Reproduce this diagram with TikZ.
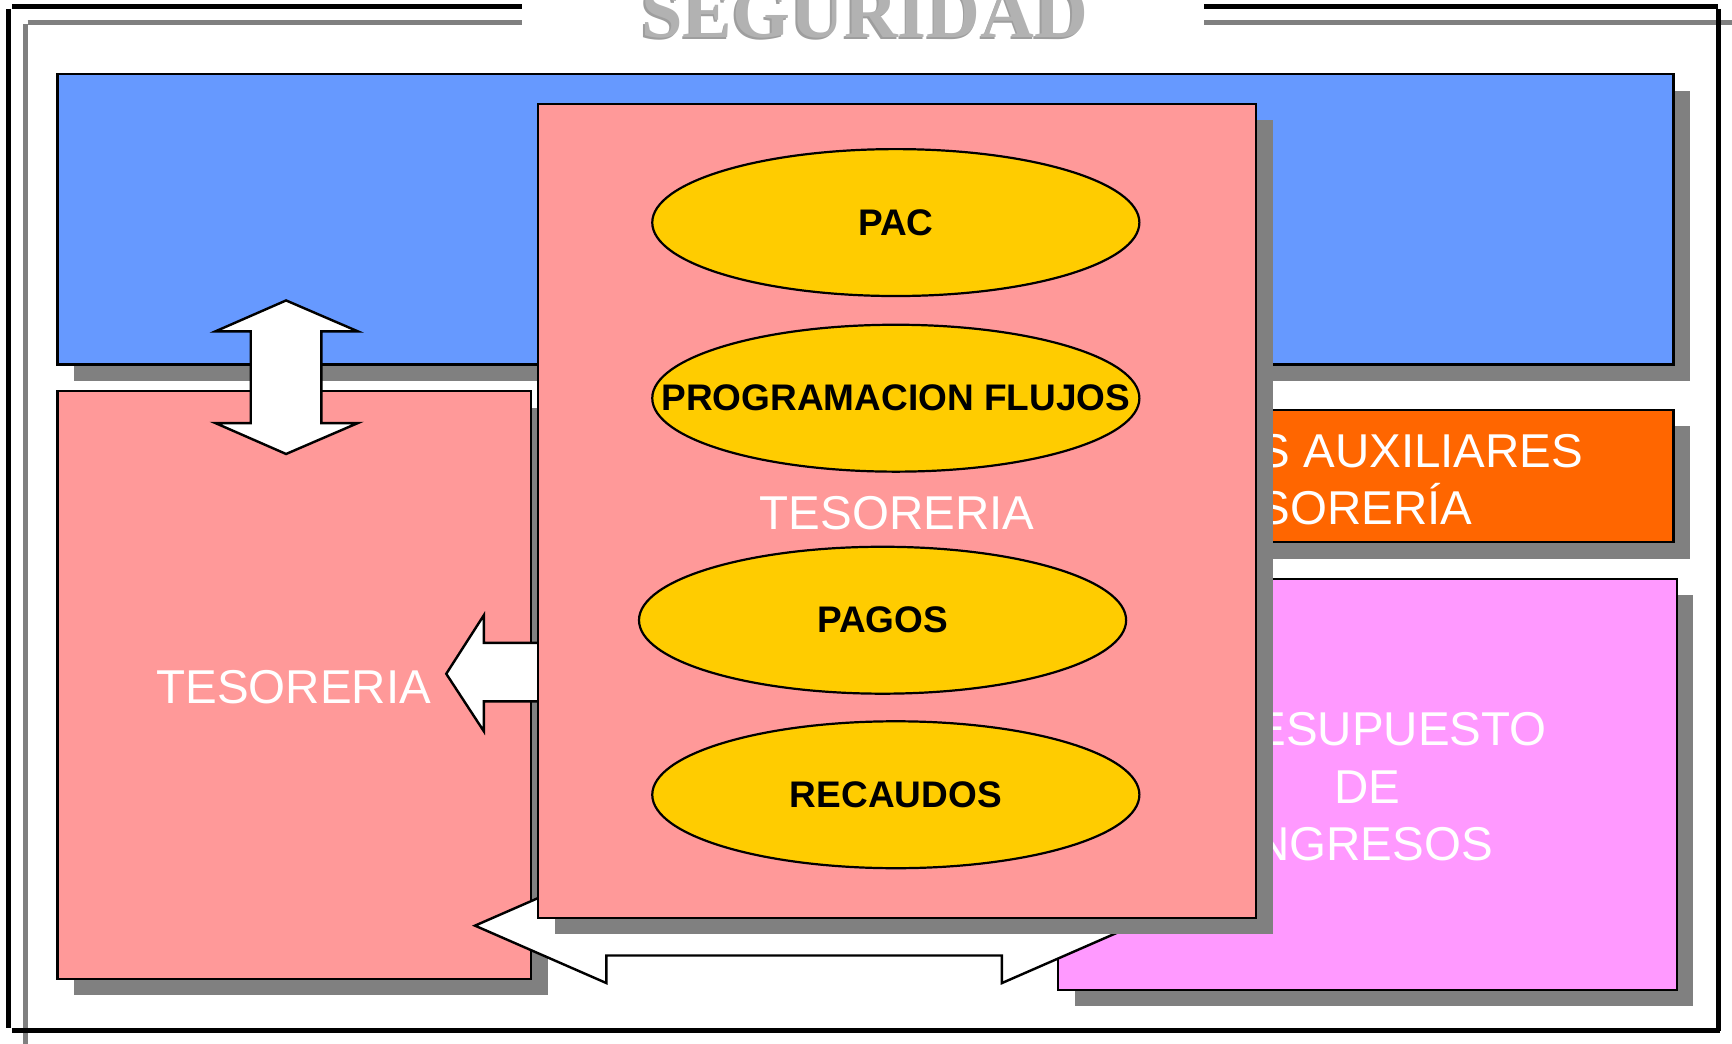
\documentclass[tikz,border=0pt]{standalone}
\usepackage{fontspec}
\setmainfont{Liberation Sans}
\newfontfamily\titlefont{Liberation Serif}
\usetikzlibrary{shapes.geometric}
\definecolor{blueF}{HTML}{6699FF}
\definecolor{pinkF}{HTML}{FF9999}
\definecolor{orangeF}{HTML}{FF6600}
\definecolor{magF}{HTML}{FF99FF}
\definecolor{yelF}{HTML}{FFCC00}
\definecolor{shadowF}{HTML}{808080}
\definecolor{titleF}{HTML}{B2B2B2}
\definecolor{titleS}{HTML}{9E9E9E}
\begin{document}
\begin{tikzpicture}[x=0.5pt,y=-0.5pt,
  box/.style={draw=black, line width=1pt, anchor=north west, inner sep=0pt, outer sep=0pt},
  shadowbox/.style={fill=shadowF},
  frameblack/.style={draw=black, line width=2.25pt},
  framegray/.style={draw=shadowF, line width=2.25pt},
  ell/.style={ellipse, draw=black, line width=1pt, fill=yelF, minimum width=220.5pt, minimum height=66.5pt, inner sep=0pt},
  elltext/.style={font=\bfseries\fontsize{16.75}{20}\selectfont, text=black, inner sep=0pt},
  whitetext/.style={font=\fontsize{21.5}{26}\selectfont, text=white, inner sep=0pt, anchor=base},
  titletext/.style={font=\titlefont\bfseries\fontsize{33.7}{40}\selectfont, inner sep=0pt, anchor=base},
  blockarrow/.style={draw=black, line width=1.1pt, fill=white, line join=miter},
]
\useasboundingbox (0,0) rectangle (1568,945);
\fill[white] (0,0) rectangle (1568,945);

% frame
\draw[framegray] (25,20) -- (473,20);
\draw[framegray] (1090,20) -- (1568,20);
\draw[framegray] (23,22) -- (23,945);
\draw[frameblack] (11,6) -- (473,6);
\draw[frameblack] (1090,6) -- (1555,6);
\draw[frameblack] (8,8) -- (8,931);
\draw[frameblack] (11,933) -- (1557,933);
\draw[frameblack] (1556,8) -- (1556,933);

% title
\node[titletext, text=titleS] (titleshadow) at (781.5,35.5) {SEGURIDAD};
\node[titletext, text=titleF] (title) at (783,34) {SEGURIDAD};

% blue box
\fill[shadowbox] (67,82) rectangle (1530,345);
\node[box, fill=blueF, minimum width=731.5pt, minimum height=131.5pt] (blue) at (52,67) {};

% left pink box
\fill[shadowbox] (67,369) rectangle (496,901);
\node[box, fill=pinkF, minimum width=214.5pt, minimum height=266pt] (tesL) at (52,354) {};
\node[whitetext] (tesLtext) at (266,637) {TESORERIA};

% orange box
\fill[shadowbox] (973,386) rectangle (1530,506);
\node[box, fill=orangeF, minimum width=278.5pt, minimum height=60pt] (aux) at (958,371) {};
\node[whitetext, anchor=base west] (aux1) at (1139,423) {S AUXILIARES};
\node[whitetext, anchor=base west] (aux2) at (1139,475) {SORERÍA};

% magenta box
\fill[shadowbox] (973,539) rectangle (1533,911);
\node[box, fill=magF, minimum width=280pt, minimum height=186pt] (pres) at (958,524) {};
\node[whitetext] (pres1) at (1238,675) {PRESUPUESTO};
\node[whitetext] (pres2) at (1238,727) {DE};
\node[whitetext] (pres3) at (1238,779) {INGRESOS};

% block arrows
\draw[blockarrow] (259,272) -- (324,300) -- (291,300) -- (291,383) -- (324,383) -- (259,411)
  -- (195,383) -- (227,383) -- (227,300) -- (195,300) -- cycle;
\draw[blockarrow] (404,610) -- (438,557) -- (438,582) -- (500,582) -- (500,635) -- (438,635)
  -- (438,662) -- cycle;
\draw[blockarrow] (430,838) -- (549,786) -- (549,811) -- (907,811) -- (907,786) -- (1026,838)
  -- (907,890) -- (907,865) -- (549,865) -- (549,890) -- cycle;

% central box
\fill[shadowbox] (502,109) rectangle (1152,846);
\node[box, fill=pinkF, minimum width=325pt, minimum height=368.5pt] (tesC) at (487,94) {};

\node[ell] (pac) at (811,201.5) {};
\node[elltext] (pact) at (pac) {PAC};
\node[ell] (flujos) at (811,360.5) {};
\node[elltext] (flujost) at (flujos) {PROGRAMACION FLUJOS};
\node[ell] (pagos) at (799,561.5) {};
\node[elltext] (pagost) at (pagos) {PAGOS};
\node[ell] (recaudos) at (811,719.5) {};
\node[elltext] (recaudost) at (recaudos) {RECAUDOS};

\node[whitetext] (tesCtext) at (812,479) {TESORERIA};
\end{tikzpicture}
\end{document}
